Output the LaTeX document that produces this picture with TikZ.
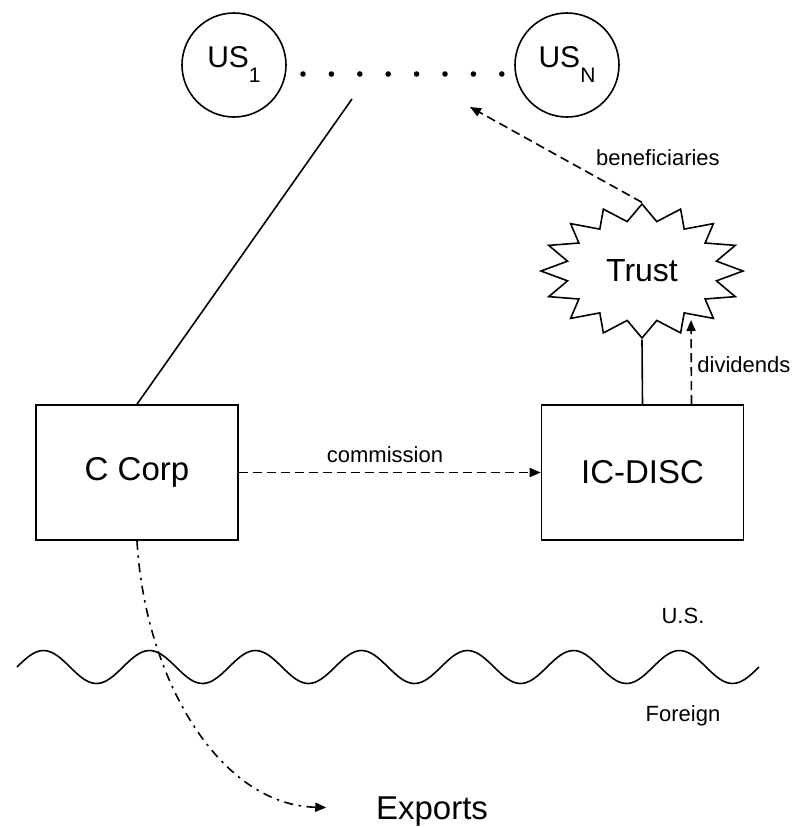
\documentclass[tikz,border=0pt]{standalone}
\usepackage{fontspec}
\setmainfont{Liberation Sans}
\usepackage{tikz}
\usetikzlibrary{arrows.meta, shapes.geometric}
\newcommand{\ussub}[1]{\raisebox{-7.5pt}{\fontsize{10.5}{10.5}\selectfont #1}}

\begin{document}
\begin{tikzpicture}[
  x=0.5pt, y=-0.5pt,
  every node/.style={inner sep=0pt},
  owner/.style={circle, draw, line width=0.8pt, minimum size=52pt,
                font=\fontsize{15}{15}\selectfont},
  block/.style={rectangle, draw, line width=0.8pt, minimum width=101pt,
                minimum height=67.5pt, font=\fontsize{16.5}{16.5}\selectfont},
  burst/.style={star, star points=16, star point ratio=1.33, draw,
                line width=0.8pt, minimum size=67pt},
  lbl/.style={font=\fontsize{11}{11}\selectfont, anchor=base},
  big/.style={font=\fontsize{16.5}{16.5}\selectfont, anchor=base},
  link/.style={line width=0.8pt},
  flow/.style={line width=0.8pt, dash pattern=on 4.5pt off 2.5pt,
               -{Triangle[length=5.5pt, width=4.5pt]}},
  ship/.style={line width=0.8pt, dash pattern=on 4.5pt off 2.8pt on 1.2pt off 2.8pt,
               -{Triangle[length=5.5pt, width=4.5pt]}},
]
\useasboundingbox (0,0) rectangle (793,827);
\node[owner] (us1) at (234,65) {US\ussub{1}};
\node[owner] (usn) at (567,65) {US\ussub{N}};
\foreach \i in {0,...,7}
  \fill (303+28.4*\i,74) circle (1.4pt);
\coordinate (share) at (352,99);
\coordinate (benef) at (470,107);
\node[block] (ccorp)  at (137,472.5)   {C Corp};
\node[block] (icdisc) at (642.5,472.5) {IC-DISC};
\begin{scope}[shift={(642,271)}, xscale=1.507]
  \node[burst, transform shape] (trust) {};
\end{scope}
\node[font=\fontsize{16}{16}\selectfont] (trusttxt) at (trust.center) {Trust};
\draw[link, domain=17:759, samples=240, smooth, variable=\x]
  plot (\x, {667-16.5*sin((\x-17)/106*360)});
\node[lbl] (uslbl)  at (683,623) {U.S.};
\node[lbl] (forlbl) at (683,721) {Foreign};
\node[big] (exports) at (432,819) {Exports};
\draw[link] (ccorp.north) -- (share);
\draw[flow] (ccorp.east) -- (icdisc.west);
\node[lbl] (commlbl) at (385,462) {commission};
\draw[link] (trust.south) -- (icdisc.north);
\draw[flow] ([xshift=24.5pt]icdisc.north) -- ([xshift=24.5pt, yshift=-24.5pt]trust.center);
\node[lbl, anchor=base west] (divlbl) at (697,372) {dividends};
\draw[flow] (trust.north) -- (benef);
\node[lbl] (benlbl) at (658,165) {beneficiaries};
\draw[ship] (ccorp.south) .. controls (145,680) and (220,805) .. ([xshift=-24.7pt, yshift=1.8pt]exports.west);
\end{tikzpicture}
\end{document}
